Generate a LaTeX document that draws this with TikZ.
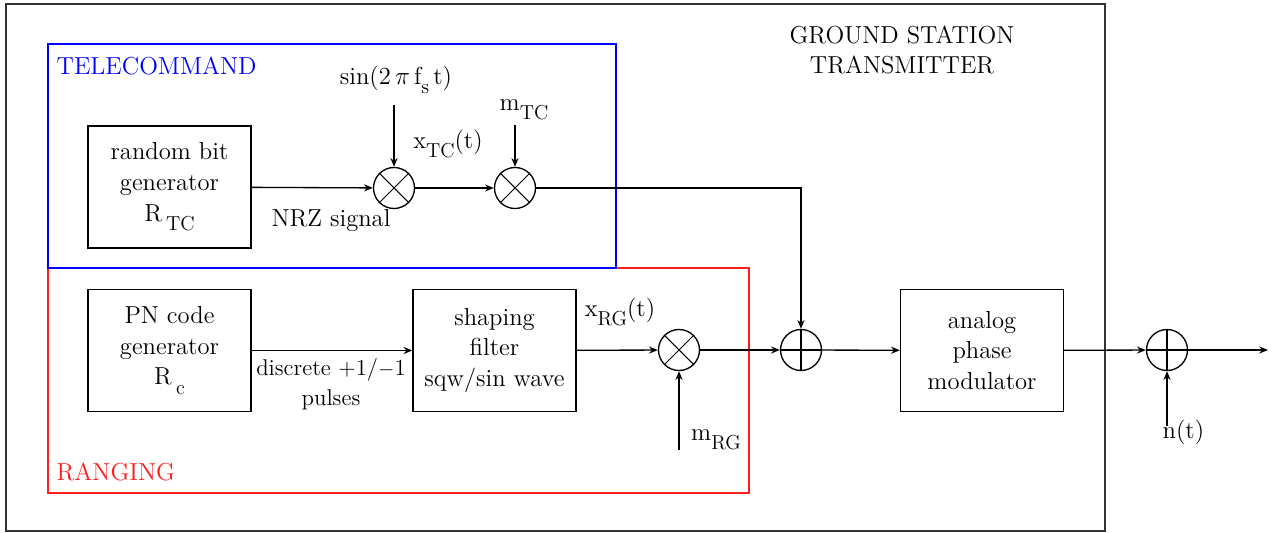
\documentclass[tikz,border=0pt]{standalone}
\usepackage{fontspec}
\usetikzlibrary{arrows.meta}
\definecolor{tcblue}{RGB}{0, 0, 255}
\definecolor{rgred}{RGB}{255, 30, 30}
\newcommand{\lowsub}[1]{\raisebox{-0.9ex}{\fontsize{11.5}{12}\selectfont #1}}

\begin{document}
\begin{tikzpicture}[x=0.02cm, y=-0.02cm, >={Stealth[length=5pt, width=4pt]},
  font=\fontsize{14}{17.5}\selectfont, line width=0.75pt,
  block/.style={draw, minimum width=3.26cm, minimum height=2.44cm, align=center, inner sep=2pt},
  mixer/.style={draw, circle, minimum size=0.82cm, inner sep=0pt,
    path picture={\draw[line width=0.6pt, shift={(path picture bounding box.center)}]
      (45:0.41cm) -- (225:0.41cm) (135:0.41cm) -- (315:0.41cm);}},
  adder/.style={draw, circle, minimum size=0.82cm, inner sep=0pt,
    path picture={\draw[line width=0.6pt, shift={(path picture bounding box.center)}]
      (0:0.41cm) -- (180:0.41cm) (90:0.41cm) -- (270:0.41cm);}}]
  \useasboundingbox (0,0) rectangle (1272,533);
  % Outer frame and sub-system frames
  \draw[black!80, line width=1.1pt] (6,4) rectangle (1105,531);
  \draw[rgred] (48,268) rectangle (749,493);
  \draw[tcblue] (48,44) rectangle (616,268);
  \node[tcblue, anchor=west, inner sep=0pt] (tclabel) at (56,66) {TELECOMMAND};
  \node[rgred, anchor=west, inner sep=0pt] (rglabel) at (56,472) {RANGING};
  \node[align=center] (gslabel) at (902,50) {GROUND STATION\\TRANSMITTER};
  % Blocks
  \node[block] (bitgen) at (169.5,187) {random bit\\generator\\R\,\lowsub{TC}};
  \node[block] (pngen) at (169.5,350.5) {PN code\\generator\\R\,\lowsub{c}};
  \node[block] (shaping) at (494.5,350.5) {shaping\\filter\\sqw/sin wave};
  \node[block] (modulator) at (982,350.5) {analog\\phase\\modulator};
  % Mixers and adders
  \node[mixer] (mixTC1) at (394,188) {};
  \node[mixer] (mixTC2) at (515,188) {};
  \node[mixer] (mixRG) at (679,350) {};
  \node[adder] (sumA) at (801,350) {};
  \node[adder] (sumB) at (1167,350) {};
  % Inputs
  \coordinate (sinIn) at (394,105);
  \coordinate (mtcIn) at (515,125);
  \coordinate (mrgIn) at (679,450);
  \coordinate (nIn) at (1167,426);
  \coordinate (corner) at (801,188);
  \coordinate (out) at (1268,350);
  \node (sinlabel) at (396,80) {sin(2\,$\pi$\,f\lowsub{s}\,t)};
  \node (mtclabel) at (524,110) {m\lowsub{TC}};
  \node (mrglabel) at (716,440) {m\lowsub{RG}};
  \node[anchor=west, inner sep=0pt] (nlabel) at (1162,432) {n(t)};
  \node (xtclabel) at (448,144) {x\lowsub{TC}(t)};
  \node (xrglabel) at (620,312) {x\lowsub{RG}(t)};
  \node (nrzlabel) at (331,220) {NRZ signal};
  \node[align=center, font=\fontsize{13}{17}\selectfont] (pulselabel) at (331,384) {discrete +1/$-$1\\pulses};
  % Connections
  \draw[->] (bitgen) -- (mixTC1);
  \draw[->] (sinIn) -- (mixTC1);
  \draw[->] (mixTC1) -- (mixTC2);
  \draw[->] (mtcIn) -- (mixTC2);
  \draw[->] (mixTC2) -- (corner) -- (sumA);
  \draw[->] (pngen) -- (shaping);
  \draw[->] (shaping) -- (mixRG);
  \draw[->] (mrgIn) -- (mixRG);
  \draw[->] (mixRG) -- (sumA);
  \draw[->] (sumA) -- (modulator);
  \draw[->] (modulator) -- (sumB);
  \draw[->] (nIn) -- (sumB);
  \draw[->] (sumB) -- (out);
\end{tikzpicture}
\end{document}
